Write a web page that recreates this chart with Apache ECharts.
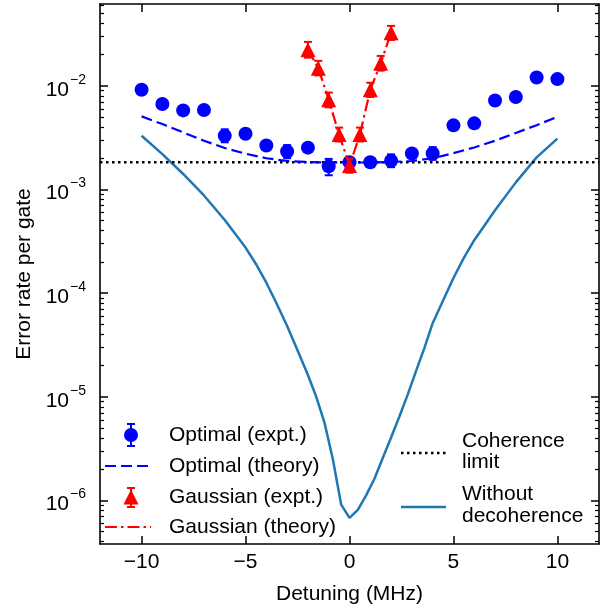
<!DOCTYPE html>
<html><head><meta charset="utf-8">
<script src="https://cdn.jsdelivr.net/npm/echarts@6/dist/echarts.min.js"></script>
<style>html,body{margin:0;padding:0;background:#fff}#c{width:612px;height:610px}</style>
</head><body><div id="c"></div>
<script>
// ---- data ----
const detuning = [-10,-9,-8,-7,-6,-5,-4,-3,-2,-1,0,1,2,3,4,5,6,7,8,9,10];
const optimalExpt = [9.15e-3,6.67e-3,5.79e-3,5.83e-3,3.30e-3,3.45e-3,2.65e-3,2.32e-3,2.53e-3,1.67e-3,1.83e-3,1.83e-3,1.89e-3,2.22e-3,2.22e-3,4.15e-3,4.34e-3,7.22e-3,7.79e-3,1.20e-2,1.16e-2];
const optimalLow  = [8.5e-3,6.2e-3,5.4e-3,5.4e-3,2.85e-3,3.2e-3,2.45e-3,2.0e-3,2.35e-3,1.37e-3,1.7e-3,1.7e-3,1.64e-3,2.06e-3,1.93e-3,3.85e-3,4.0e-3,6.7e-3,7.2e-3,1.11e-2,1.08e-2];
const optimalHigh = [9.8e-3,7.2e-3,6.2e-3,6.25e-3,3.8e-3,3.72e-3,2.85e-3,2.68e-3,2.72e-3,1.97e-3,1.97e-3,1.97e-3,2.18e-3,2.39e-3,2.56e-3,4.47e-3,4.68e-3,7.8e-3,8.4e-3,1.29e-2,1.25e-2];
const optimalTheory = [5.07e-3,4.27e-3,3.55e-3,2.95e-3,2.51e-3,2.21e-3,2.0e-3,1.88e-3,1.84e-3,1.82e-3,1.82e-3,1.82e-3,1.84e-3,1.88e-3,2.0e-3,2.24e-3,2.54e-3,2.95e-3,3.51e-3,4.17e-3,5.01e-3];

const gaussDetuning = [-2,-1.5,-1,-0.5,0,0.5,1,1.5,2];
const gaussExpt = [2.22e-2,1.48e-2,7.33e-3,3.38e-3,1.70e-3,3.38e-3,9.15e-3,1.65e-2,3.25e-2];
const gaussLow  = [1.87e-2,1.26e-2,6.2e-3,2.9e-3,1.45e-3,2.9e-3,7.8e-3,1.40e-2,2.77e-2];
const gaussHigh = [2.65e-2,1.74e-2,8.6e-3,3.95e-3,1.98e-3,3.95e-3,1.07e-2,1.94e-2,3.78e-2];
const gaussTheory = [2.22e-2,1.48e-2,7.33e-3,3.38e-3,1.70e-3,3.38e-3,9.15e-3,1.65e-2,3.25e-2];

const noDecohDetuning = [-10,-9,-8,-7,-6,-5,-4.5,-4,-3.5,-3,-2.5,-2,-1.6,-1.2,-0.8,-0.4,0,0.4,0.8,1.2,1.6,2,2.4,2.8,3.2,3.6,4,4.5,5,5.5,6,7,8,9,10];
const noDecoh = [3.30e-3,2.19e-3,1.41e-3,8.75e-4,5.08e-4,2.75e-4,1.91e-4,1.26e-4,7.9e-5,4.82e-5,2.81e-5,1.62e-5,1.0e-5,5.6e-6,2.5e-6,9.1e-7,6.8e-7,8.1e-7,1.12e-6,1.62e-6,2.57e-6,4.04e-6,6.46e-6,1.05e-5,1.77e-5,2.95e-5,5.13e-5,8.5e-5,1.40e-4,2.19e-4,3.24e-4,6.3e-4,1.17e-3,2.04e-3,3.09e-3];

const coherenceLimit = 1.83e-3;
const xRange = [-12, 12];
const yRange = [3.8e-7, 0.0615];
const xTicks = [-10,-5,0,5,10];
const yTicks = [1e-6,1e-5,1e-4,1e-3,1e-2];
const yMinorTicks = [];
for (let e = -7; e <= -2; e++) for (let k = 2; k <= 9; k++) {
  const v = k * Math.pow(10, e);
  if (v > yRange[0] && v < yRange[1]) yMinorTicks.push(v);
}

// ---- chart ----
const FONT = 'Liberation Sans, Arial, sans-serif';
const BLUE = '#0000ff', RED = '#ff0000', STEEL = '#1f77b4';
const chart = echarts.init(document.getElementById('c'), null, {renderer: 'canvas'});

function errRender(color, cap) {
  return function (params, api) {
    const x = api.value(0), lo = api.value(1), hi = api.value(2);
    const a = api.coord([x, lo]), b = api.coord([x, hi]);
    const st = {stroke: color, lineWidth: 2};
    return {type: 'group', children: [
      {type: 'line', shape: {x1: a[0], y1: a[1], x2: b[0], y2: b[1]}, style: st},
      {type: 'line', shape: {x1: a[0]-cap, y1: a[1], x2: a[0]+cap, y2: a[1]}, style: st},
      {type: 'line', shape: {x1: b[0]-cap, y1: b[1], x2: b[0]+cap, y2: b[1]}, style: st}
    ]};
  };
}

const axLine = {show: true, onZero: false, lineStyle: {color: '#000', width: 1.6}};
function xAx(pos, labels) {
  return {
    type: 'value', position: pos, min: xRange[0], max: xRange[1],
    axisLine: axLine, splitLine: {show: false},
    axisTick: {show: true, inside: true, length: 8, lineStyle: {color: '#000', width: 1.5}, customValues: xTicks},
    axisLabel: labels ? {show: true, customValues: xTicks, fontSize: 21, fontFamily: FONT, color: '#000', margin: 8,
      formatter: v => (v < 0 ? '\u2212' + Math.abs(v) : String(v))} : {show: false},
    name: labels ? 'Detuning (MHz)' : '', nameLocation: 'middle', nameGap: 40,
    nameTextStyle: {fontSize: 21, fontFamily: FONT, color: '#000'}
  };
}
function yAx(pos, minor, labels) {
  return {
    type: 'log', logBase: 10, position: pos, min: yRange[0], max: yRange[1],
    axisLine: minor ? {show: false, onZero: false} : axLine, splitLine: {show: false}, minorTick: {show: false},
    axisTick: {show: true, inside: true, length: minor ? 4 : 8, lineStyle: {color: '#000', width: minor ? 1.2 : 1.5},
      customValues: minor ? yMinorTicks : yTicks},
    axisLabel: labels ? {show: true, customValues: yTicks, margin: 14, fontFamily: FONT, color: '#000',
      formatter: v => '{b|10}{s|\u2212' + Math.abs(Math.round(Math.log10(v))) + '}',
      rich: {b: {fontSize: 21, fontFamily: FONT, color: '#000', padding: [8, 0, 0, 0]},
             s: {fontSize: 14, fontFamily: FONT, color: '#000', padding: [0, 0, 12, 1]}}} : {show: false},
    name: labels ? 'Error rate per gate' : '', nameLocation: 'middle', nameGap: 58,
    nameTextStyle: {fontSize: 21, fontFamily: FONT, color: '#000'}
  };
}

const zip = (xs, ys) => xs.map((x, i) => [x, ys[i]]);
const zip3 = (xs, a, b) => xs.map((x, i) => [x, a[i], b[i]]);

const option = {
  animation: false,
  backgroundColor: '#fff',
  grid: {left: 100, top: 4, right: 13, bottom: 65, containLabel: false},
  xAxis: [xAx('bottom', true), xAx('top', false)],
  yAxis: [yAx('left', false, true), yAx('right', false, false), yAx('left', true, false), yAx('right', true, false)],
  series: [
    {type: 'line', name: 'Without decoherence', data: zip(noDecohDetuning, noDecoh), showSymbol: false,
      lineStyle: {color: STEEL, width: 2.5}, z: 2},
    {type: 'line', name: 'Coherence limit', data: [[xRange[0], coherenceLimit], [xRange[1], coherenceLimit]], showSymbol: false,
      lineStyle: {color: '#000', width: 2.5, type: [2.5, 3.5]}, z: 3},
    {type: 'line', name: 'Optimal (theory)', data: zip(detuning, optimalTheory), showSymbol: false,
      lineStyle: {color: BLUE, width: 2.2, type: [11, 5]}, z: 4},
    {type: 'custom', name: 'Optimal err', data: zip3(detuning, optimalLow, optimalHigh),
      encode: {x: 0, y: [1, 2]}, renderItem: errRender(BLUE, 4), z: 5},
    {type: 'scatter', name: 'Optimal (expt.)', data: zip(detuning, optimalExpt), symbol: 'circle', symbolSize: 14,
      itemStyle: {color: BLUE, opacity: 1}, z: 6},
    {type: 'line', name: 'Gaussian (theory)', data: zip(gaussDetuning, gaussTheory), showSymbol: false,
      lineStyle: {color: RED, width: 2.2, type: [12, 4, 2.5, 4]}, z: 7},
    {type: 'custom', name: 'Gaussian err', data: zip3(gaussDetuning, gaussLow, gaussHigh),
      encode: {x: 0, y: [1, 2]}, renderItem: errRender(RED, 4), z: 8},
    {type: 'scatter', name: 'Gaussian (expt.)', data: zip(gaussDetuning, gaussExpt), symbol: 'triangle', symbolSize: 15,
      itemStyle: {color: RED, opacity: 1}, z: 9}
  ],
  graphic: [
    // left legend
    {type: 'line', shape: {x1: 131, y1: 424, x2: 131, y2: 446}, style: {stroke: BLUE, lineWidth: 2}},
    {type: 'line', shape: {x1: 127, y1: 424, x2: 135, y2: 424}, style: {stroke: BLUE, lineWidth: 2}},
    {type: 'line', shape: {x1: 127, y1: 446, x2: 135, y2: 446}, style: {stroke: BLUE, lineWidth: 2}},
    {type: 'circle', shape: {cx: 131, cy: 435, r: 7}, style: {fill: BLUE}},
    {type: 'text', x: 169, y: 435, style: {text: 'Optimal (expt.)', font: '21px ' + FONT, fill: '#000', verticalAlign: 'middle'}},
    {type: 'line', shape: {x1: 105, y1: 466, x2: 151, y2: 466}, style: {stroke: BLUE, lineWidth: 2.2, lineDash: [11, 5]}},
    {type: 'text', x: 169, y: 466, style: {text: 'Optimal (theory)', font: '21px ' + FONT, fill: '#000', verticalAlign: 'middle'}},
    {type: 'line', shape: {x1: 131, y1: 488, x2: 131, y2: 507}, style: {stroke: RED, lineWidth: 2}},
    {type: 'line', shape: {x1: 127, y1: 488, x2: 135, y2: 488}, style: {stroke: RED, lineWidth: 2}},
    {type: 'line', shape: {x1: 127, y1: 507, x2: 135, y2: 507}, style: {stroke: RED, lineWidth: 2}},
    {type: 'polygon', shape: {points: [[131, 489.5], [123.5, 504.5], [138.5, 504.5]]}, style: {fill: RED}},
    {type: 'text', x: 169, y: 497, style: {text: 'Gaussian (expt.)', font: '21px ' + FONT, fill: '#000', verticalAlign: 'middle'}},
    {type: 'line', shape: {x1: 105, y1: 527, x2: 151, y2: 527}, style: {stroke: RED, lineWidth: 2.2, lineDash: [12, 4, 2.5, 4]}},
    {type: 'text', x: 169, y: 527, style: {text: 'Gaussian (theory)', font: '21px ' + FONT, fill: '#000', verticalAlign: 'middle'}},
    // right legend
    {type: 'line', shape: {x1: 401, y1: 453, x2: 446, y2: 453}, style: {stroke: '#000', lineWidth: 2.5, lineDash: [2.5, 3.5]}},
    {type: 'text', x: 462, y: 452, style: {text: 'Coherence\nlimit', font: '21px ' + FONT, lineHeight: 21, fill: '#000', verticalAlign: 'middle'}},
    {type: 'line', shape: {x1: 401, y1: 507, x2: 446, y2: 507}, style: {stroke: STEEL, lineWidth: 2.5}},
    {type: 'text', x: 462, y: 505, style: {text: 'Without\ndecoherence', font: '21px ' + FONT, lineHeight: 22, fill: '#000', verticalAlign: 'middle'}}
  ]
};
chart.setOption(option);
</script></body></html>
